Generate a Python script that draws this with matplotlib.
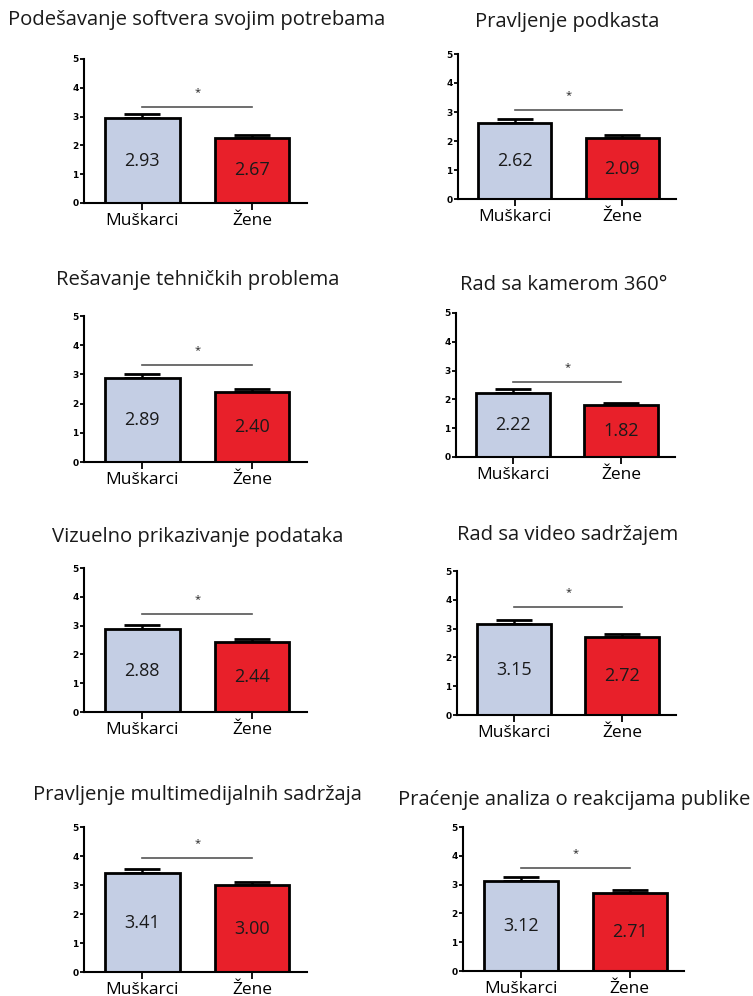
import matplotlib
matplotlib.use("Agg")
import matplotlib.pyplot as plt

# ---------------- data ----------------
titles = [
    "Podešavanje softvera svojim potrebama",
    "Pravljenje podkasta",
    "Rešavanje tehničkih problema",
    "Rad sa kamerom 360°",
    "Vizuelno prikazivanje podataka",
    "Rad sa video sadržajem",
    "Pravljenje multimedijalnih sadržaja",
    "Praćenje analiza o reakcijama publike",
]
groups = ["Muškarci", "Žene"]
men_heights = [2.95, 2.62, 2.89, 2.22, 2.88, 3.15, 3.41, 3.12]
women_heights = [2.27, 2.09, 2.40, 1.82, 2.44, 2.72, 3.00, 2.71]
men_labels = ["2.93", "2.62", "2.89", "2.22", "2.88", "3.15", "3.41", "3.12"]
women_labels = ["2.67", "2.09", "2.40", "1.82", "2.44", "2.72", "3.00", "2.71"]
men_err = [0.13, 0.13, 0.13, 0.13, 0.13, 0.14, 0.14, 0.13]
women_err = [0.10, 0.10, 0.10, 0.07, 0.10, 0.10, 0.11, 0.11]
sig_level = [3.33, 3.07, 3.32, 2.60, 3.40, 3.75, 3.93, 3.58]
yticks = [0, 1, 2, 3, 4, 5]

# ---------------- style ----------------
W, H = 753, 996
DPI = 100
FONT = ["Open Sans", "DejaVu Sans"]
plt.rcParams["font.family"] = FONT
BLUE = "#C4CEE4"
RED = "#E8202A"

# pixel layout: (x_left, x_right, y_top(5), y_bottom(0))
boxes = [
    (84, 307, 59, 203),
    (458, 676, 54, 199),
    (84, 307, 316, 462),
    (456, 675, 313, 457),
    (84, 307, 568, 712),
    (457, 676, 571, 715),
    (84, 307, 827, 972),
    (463, 684, 827, 971),
]
title_pos = [
    (197, 20), (567, 22),
    (198, 280), (564, 285),
    (198, 537), (568, 535),
    (197, 795), (574, 800),
]

fig = plt.figure(figsize=(W / DPI, H / DPI), dpi=DPI)
fig.patch.set_facecolor("white")

for i in range(8):
    x0, x1, yt, yb = boxes[i]
    ax = fig.add_axes([x0 / W, 1 - yb / H, (x1 - x0) / W, (yb - yt) / H])
    heights = [men_heights[i], women_heights[i]]
    errs = [men_err[i], women_err[i]]
    labels = [men_labels[i], women_labels[i]]
    xs = [0, 1]
    ax.errorbar(xs, heights, yerr=[[0, 0], errs], fmt="none", ecolor="black",
                elinewidth=1.8, capsize=13, capthick=2.0, zorder=1)
    ax.bar(xs, heights, width=0.68, color=[BLUE, RED], edgecolor="black",
           linewidth=2.0, zorder=2)
    for x, h, lab in zip(xs, heights, labels):
        ax.text(x, h / 2, lab, ha="center", va="center", fontsize=13,
                color="#1a1a1a", zorder=3)
    # significance bracket
    ax.plot([0, 1], [sig_level[i], sig_level[i]], color="#555555", lw=1.2,
            zorder=3)
    ax.text(0.5, sig_level[i] + 0.32, "*", ha="center", va="bottom",
            fontsize=8, color="#222222")
    ax.set_xlim(-0.53, 1.5)
    ax.set_ylim(0, 5)
    ax.set_yticks(yticks)
    ax.set_yticklabels([str(t) for t in yticks], fontsize=6.5,
                       fontweight="bold", family=["DejaVu Sans"])
    ax.set_xticks(xs)
    ax.set_xticklabels(groups, fontsize=12.5)
    ax.tick_params(axis="y", length=3, width=1.3, pad=1)
    ax.tick_params(axis="x", length=5, width=1.3, pad=2)
    for s in ["top", "right"]:
        ax.spines[s].set_visible(False)
    for s in ["left", "bottom"]:
        ax.spines[s].set_linewidth(1.5)
    ax.set_facecolor("none")
    tx, ty = title_pos[i]
    fig.text(tx / W, 1 - ty / H, titles[i], ha="center", va="center",
             fontsize=14.6, color="#1a1a1a")

fig.savefig("out.png", dpi=DPI, facecolor="white")
